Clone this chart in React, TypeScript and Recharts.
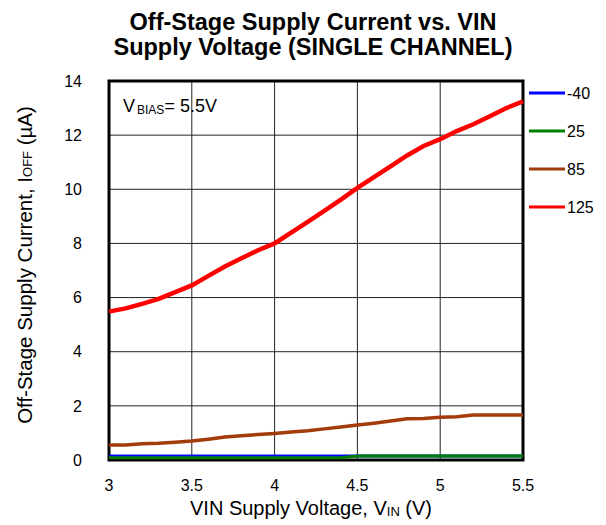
import React from "react";
import { LineChart, Line, XAxis, YAxis, CartesianGrid, ReferenceArea } from "recharts";

const volts = [
  3.0, 3.1, 3.2, 3.3, 3.4, 3.5, 3.6, 3.7, 3.8, 3.9, 4.0, 4.1, 4.2, 4.3, 4.4,
  4.5, 4.6, 4.7, 4.8, 4.9, 5.0, 5.1, 5.2, 5.3, 5.4, 5.5,
];
const iM40 = [
  0.15, 0.15, 0.15, 0.15, 0.15, 0.15, 0.15, 0.15, 0.15, 0.15, 0.15, 0.15, 0.15,
  0.15, 0.15, 0.15, 0.15, 0.15, 0.15, 0.15, 0.15, 0.15, 0.15, 0.15, 0.15, 0.15,
];
const i25 = [
  0.08, 0.08, 0.08, 0.08, 0.08, 0.08, 0.08, 0.08, 0.08, 0.08, 0.08, 0.08, 0.08,
  0.08, 0.08, 0.15, 0.15, 0.15, 0.15, 0.15, 0.15, 0.15, 0.15, 0.15, 0.15, 0.15,
];
const i85 = [
  0.55, 0.55, 0.6, 0.62, 0.66, 0.7, 0.77, 0.85, 0.9, 0.94, 0.98, 1.03, 1.08,
  1.15, 1.22, 1.29, 1.36, 1.44, 1.52, 1.53, 1.58, 1.6, 1.66, 1.66, 1.66, 1.66,
];
const i125 = [
  5.48, 5.6, 5.77, 5.95, 6.2, 6.45, 6.8, 7.15, 7.45, 7.75, 8.0, 8.4, 8.8, 9.2,
  9.62, 10.05, 10.45, 10.85, 11.25, 11.6, 11.85, 12.15, 12.4, 12.7, 13.0, 13.25,
];

const xTicks = [3, 3.5, 4, 4.5, 5, 5.5];
const yTicks = [0, 2, 4, 6, 8, 10, 12, 14];

const series = [
  { key: "m40", name: "-40", color: "#0000ff", width: 3 },
  { key: "t25", name: "25", color: "#008000", width: 3 },
  { key: "t85", name: "85", color: "#a33b0a", width: 3.5 },
  { key: "t125", name: "125", color: "#ff0000", width: 4.5 },
];

const data = volts.map((v, i) => ({
  v,
  m40: iM40[i],
  t25: i25[i],
  t85: i85[i],
  t125: i125[i],
}));

const FONT = "'Liberation Sans', Arial, sans-serif";

export default function App() {
  return (
    <div
      style={{
        position: "absolute",
        left: 0,
        top: 0,
        width: 606,
        height: 525,
        background: "#fff",
        fontFamily: FONT,
      }}
    >
      <LineChart
        width={606}
        height={525}
        data={data}
        margin={{ top: 81, right: 83, bottom: 35, left: 49 }}
      >
        <CartesianGrid stroke="#222" strokeWidth={1} />
        <XAxis
          dataKey="v"
          type="number"
          domain={[3, 5.5]}
          ticks={xTicks}
          height={30}
          tickLine={false}
          axisLine={false}
          tickSize={0}
          tickMargin={20}
          tick={{ fontSize: 16, fill: "#000", fontFamily: FONT }}
        />
        <YAxis
          type="number"
          domain={[0, 14]}
          ticks={yTicks}
          width={60}
          tickLine={false}
          axisLine={false}
          tickSize={0}
          tickMargin={27}
          tick={{ fontSize: 16, fill: "#000", fontFamily: FONT }}
        />
        {series.map((s) => (
          <Line
            key={s.key}
            type="linear"
            dataKey={s.key}
            name={s.name}
            stroke={s.color}
            strokeWidth={s.width}
            dot={false}
            isAnimationActive={false}
          />
        ))}
        <ReferenceArea
          x1={3}
          x2={5.5}
          y1={0}
          y2={14}
          fill="none"
          stroke="#000"
          strokeWidth={3}
          ifOverflow="visible"
        />
      </LineChart>
      <svg
        width={606}
        height={525}
        style={{ position: "absolute", left: 0, top: 0, pointerEvents: "none" }}
        fontFamily={FONT}
      >
        <text x={313} y={30} textAnchor="middle" fontSize={23.5} fontWeight="bold">
          Off-Stage Supply Current vs. VIN
        </text>
        <text x={313} y={55} textAnchor="middle" fontSize={23.5} fontWeight="bold">
          Supply Voltage (SINGLE CHANNEL)
        </text>
        <text x={123} y={112} fontSize={18}>
          V<tspan fontSize={12} dx={2} dy={2}>BIAS</tspan>
          <tspan dy={-2}>= 5.5V</tspan>
        </text>
        <text x={311} y={515} textAnchor="middle" fontSize={20}>
          VIN Supply Voltage, V<tspan fontSize={13} dy={1}>IN</tspan>
          <tspan dy={-1}> (V)</tspan>
        </text>
        <text
          x={0}
          y={0}
          textAnchor="middle"
          fontSize={20.5}
          transform="translate(32,265) rotate(-90)"
        >
          Off-Stage Supply Current, I<tspan fontSize={13}>OFF</tspan> (µA)
        </text>
        {series.map((s, i) => (
          <g key={s.key}>
            <line
              x1={529}
              x2={565}
              y1={93 + i * 38}
              y2={93 + i * 38}
              stroke={s.color}
              strokeWidth={3}
            />
            <text x={567} y={99 + i * 38} fontSize={16} fill="#000">
              {s.name}
            </text>
          </g>
        ))}
      </svg>
    </div>
  );
}
